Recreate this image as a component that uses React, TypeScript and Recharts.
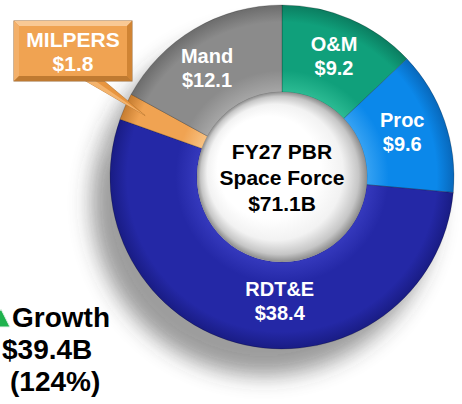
import React from 'react';
import { PieChart, Pie, Cell } from 'recharts';

const categories = ['O&M', 'Proc', 'RDT&E', 'MILPERS', 'Mand'];
const amounts = [9.2, 9.6, 38.4, 1.8, 12.1];
const centerTitle = ['FY27 PBR', 'Space Force', '$71.1B'];
const growthLines = ['Growth', '$39.4B', '(124%)'];

const data = categories.map((name, i) => ({ name, value: amounts[i] }));
const total = amounts.reduce((s, v) => s + v, 0);
const holeData = [{ name: 'total', value: total }];

const W = 462;
const H = 404;
const CX = 282;
const CY = 177;
const R_IN = 85;
const R_OUT = 172;
const FONT = '"Liberation Sans", Arial, sans-serif';
const RAD = Math.PI / 180;

const palette: Record<string, { base: string; light: string; dark: string }> = {
  'O&M': { base: '#10a07b', light: '#2cbb93', dark: '#0b7d60' },
  Proc: { base: '#0b88ea', light: '#36a2f3', dark: '#0868bb' },
  'RDT&E': { base: '#2428a6', light: '#3539bd', dark: '#191c84' },
  MILPERS: { base: '#f0a352', light: '#f8c283', dark: '#c57c30' },
  Mand: { base: '#8b8b8b', light: '#a6a6a6', dark: '#6c6c6c' },
};

// hand nudges so labels sit where the original slide has them
const labelNudge: Record<string, [number, number]> = { 'RDT&E': [26, -4], Mand: [-8, 4], Proc: [-4, -2] };

const SliceLabel = (props: any) => {
  const { cx, cy, midAngle, innerRadius, outerRadius, value } = props;
  const name: string = props.payload?.name ?? props.name;

  if (name === 'MILPERS') {
    const tipR = outerRadius - 22;
    const tx = cx + tipR * Math.cos(-midAngle * RAD);
    const ty = cy + tipR * Math.sin(-midAngle * RAD);
    const bx = 14, by = 21, bw = 118, bh = 60, b = 5;
    return (
      <g>
        <polygon points={`84,${by + bh - 1} 103,${by + bh - 1} ${tx},${ty}`} fill="#e8953f" stroke="#b3742f" strokeWidth={0.6} />
        <polygon points={`84,${by + bh - 1} 94,${by + bh - 1} ${tx},${ty}`} fill="#f4b36c" />
        <rect x={bx} y={by} width={bw} height={bh} fill="#e39545" stroke="#9c6a37" strokeWidth={1} />
        <polygon points={`${bx},${by} ${bx + bw},${by} ${bx + bw - b},${by + b} ${bx + b},${by + b}`} fill="#f9c995" />
        <polygon points={`${bx},${by} ${bx + b},${by + b} ${bx + b},${by + bh - b} ${bx},${by + bh}`} fill="#f3b06a" />
        <polygon points={`${bx + bw},${by} ${bx + bw},${by + bh} ${bx + bw - b},${by + bh - b} ${bx + bw - b},${by + b}`} fill="#d08434" />
        <polygon points={`${bx},${by + bh} ${bx + bw},${by + bh} ${bx + bw - b},${by + bh - b} ${bx + b},${by + bh - b}`} fill="#bf7a31" />
        <rect x={bx + b} y={by + b} width={bw - 2 * b} height={bh - 2 * b} fill="#f0a352" />
        <text x={bx + bw / 2} y={47} textAnchor="middle" fill="#fff" fontFamily={FONT} fontWeight="bold" fontSize={21}>
          {name}
        </text>
        <text x={bx + bw / 2} y={71} textAnchor="middle" fill="#fff" fontFamily={FONT} fontWeight="bold" fontSize={21}>
          {`$${value}`}
        </text>
      </g>
    );
  }

  const r = (innerRadius + outerRadius) / 2 + 3;
  const [nx, ny] = labelNudge[name] ?? [0, 0];
  const x = cx + r * Math.cos(-midAngle * RAD) + nx;
  const y = cy + r * Math.sin(-midAngle * RAD) + ny;
  return (
    <g>
      <text x={x} y={y - 5} textAnchor="middle" fill="#fff" fontFamily={FONT} fontWeight="bold" fontSize={20}>
        {name}
      </text>
      <text x={x} y={y + 19} textAnchor="middle" fill="#fff" fontFamily={FONT} fontWeight="bold" fontSize={20}>
        {`$${value}`}
      </text>
    </g>
  );
};

const CenterLabel = (props: any) => {
  const { cx, cy } = props;
  return (
    <g>
      {centerTitle.map((t, i) => (
        <text
          key={t}
          x={cx}
          y={cy - 18 + i * 26}
          textAnchor="middle"
          fill="#000"
          fontFamily={FONT}
          fontWeight="bold"
          fontSize={21}
        >
          {t}
        </text>
      ))}
    </g>
  );
};

export default function App() {
  return (
    <div style={{ position: 'absolute', left: 0, top: 0, width: W, height: H, background: '#fff' }}>
      <style>{'.donut-shadow { filter: url(#donutShadow); }'}</style>
      <PieChart width={W} height={H} margin={{ top: 0, right: 0, bottom: 0, left: 0 }}>
        <defs>
          <filter id="donutShadow" x="-30%" y="-30%" width="160%" height="160%">
            <feGaussianBlur stdDeviation="8" />
            <feOffset dx="-9" dy="13" result="off" />
            <feComponentTransfer>
              <feFuncA type="linear" slope="0.7" />
            </feComponentTransfer>
          </filter>
          {categories.map((c, i) => (
            <radialGradient key={c} id={`slice-${i}`} gradientUnits="userSpaceOnUse" cx={CX} cy={CY} r={R_OUT}>
              <stop offset={R_IN / R_OUT} stopColor={palette[c].light} />
              <stop offset={0.62} stopColor={palette[c].base} />
              <stop offset={0.9} stopColor={palette[c].base} />
              <stop offset={1} stopColor={palette[c].dark} />
            </radialGradient>
          ))}
          <radialGradient id="holeGrad" cx="0.5" cy="0.5" r="0.5" fx="0.3" fy="0.36">
            <stop offset={0} stopColor="#ffffff" />
            <stop offset={0.6} stopColor="#ffffff" />
            <stop offset={0.8} stopColor="#f2f2f2" />
            <stop offset={0.93} stopColor="#c6c6c6" />
            <stop offset={1} stopColor="#8c8c8c" />
          </radialGradient>
        </defs>

        <Pie
          data={data}
          dataKey="value"
          nameKey="name"
          cx={CX}
          cy={CY}
          innerRadius={R_IN}
          outerRadius={R_OUT}
          startAngle={90}
          endAngle={-270}
          fill="#333"
          stroke="#333"
          className="donut-shadow"
          isAnimationActive={false}
        />
        <Pie
          data={data}
          dataKey="value"
          nameKey="name"
          cx={CX}
          cy={CY}
          innerRadius={R_IN}
          outerRadius={R_OUT}
          startAngle={90}
          endAngle={-270}
          stroke="rgba(0,0,0,0.2)"
          strokeWidth={1}
          label={SliceLabel}
          labelLine={false}
          isAnimationActive={false}
        >
          {categories.map((c, i) => (
            <Cell key={c} fill={`url(#slice-${i})`} />
          ))}
        </Pie>
        <Pie
          data={holeData}
          dataKey="value"
          cx={CX}
          cy={CY}
          innerRadius={0}
          outerRadius={R_IN}
          startAngle={90}
          endAngle={-270}
          fill="url(#holeGrad)"
          stroke="none"
          label={CenterLabel}
          labelLine={false}
          isAnimationActive={false}
        />

        <polygon points="-10,327 1,309 10,327" fill="#1fb24d" stroke="#e8f5ec" strokeWidth={1} />
        {growthLines.map((t, i) => (
          <text
            key={t}
            x={[12, 2, 10][i]}
            y={327 + i * 32}
            fill="#000"
            fontFamily={FONT}
            fontWeight="bold"
            fontSize={28}
          >
            {t}
          </text>
        ))}
      </PieChart>
    </div>
  );
}
